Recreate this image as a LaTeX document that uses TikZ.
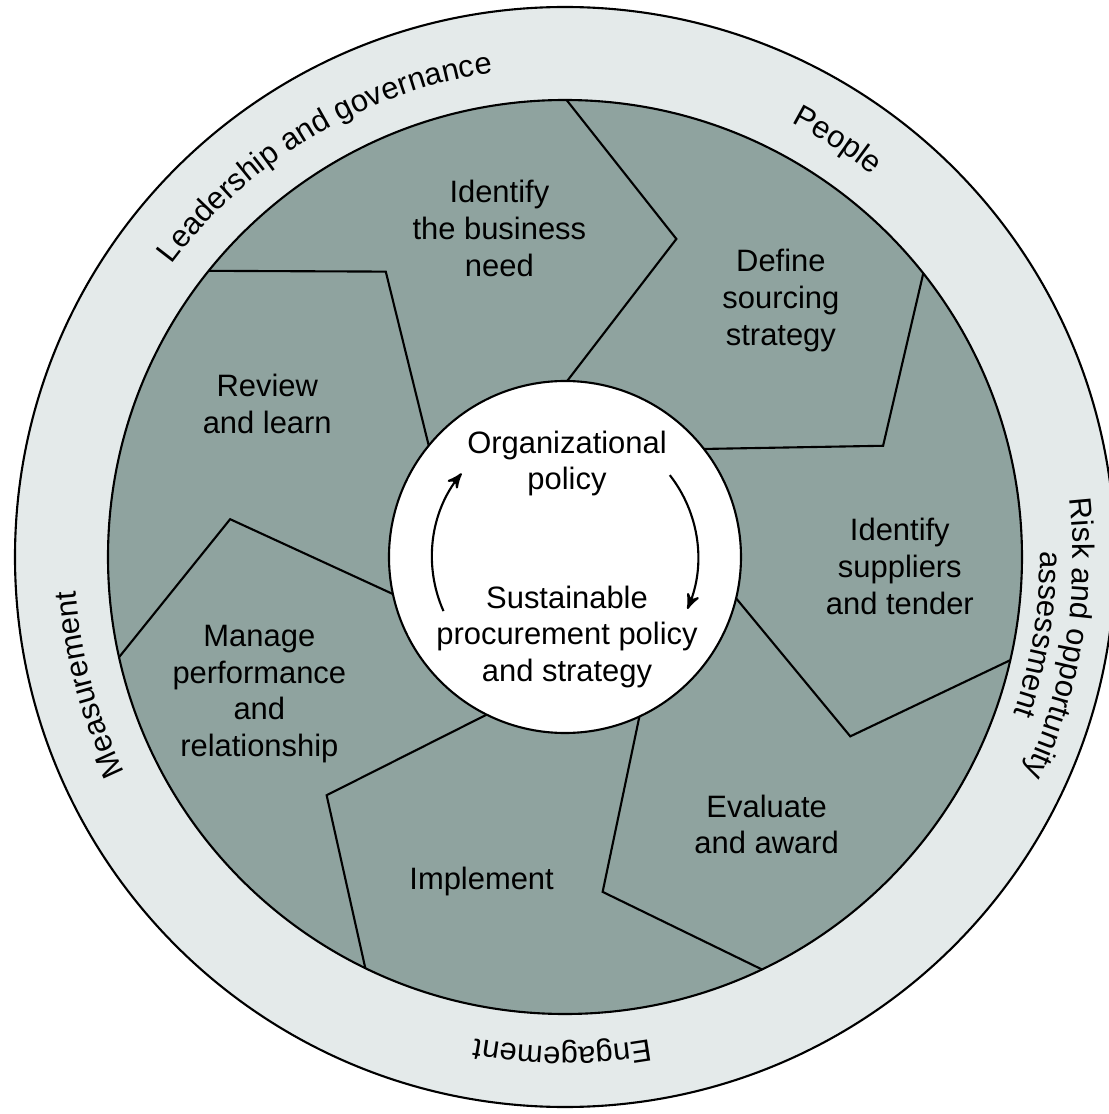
\documentclass[tikz,border=0pt]{standalone}
\usepackage{fontspec}
\setmainfont{Liberation Sans}
\usetikzlibrary{arrows}
\usetikzlibrary{decorations.text}
\usepackage{xcolor}
\definecolor{ringgrey}{HTML}{E4EAEA}
\definecolor{stagegrey}{HTML}{8FA39F}

\begin{document}
\begin{tikzpicture}[line width=0.6pt,
  stage/.style={align=center, inner sep=0pt},
  ringlabel/.style={decorate, decoration={text along path, text align=center, text={#1}}}]
\fontsize{8.8}{10.5}\selectfont
\useasboundingbox (-5.65,-5.57) rectangle (5.44,5.57);
% outer ring and stage disk
\draw[fill=ringgrey] (0,0) circle (5.5);
\draw[fill=stagegrey] (0,0) circle (4.57);
% borders between the stages
\foreach \k in {0,...,6} {
 \pgfmathsetmacro{\ang}{89.3-360/7*\k}
 \draw (\ang:1.76) -- (\ang-18.6:3.37) -- (\ang+0.5:4.57);
}
\draw[fill=white] (0,0) circle (1.76);
% stages
\foreach \txt [count=\i from 0] in {{Identify\\the business\\need}, {Define\\sourcing\\strategy},
  {Identify\\suppliers\\and tender}, {Evaluate\\and award}, {Implement},
  {Manage\\performance\\and\\relationship}, {Review\\and learn}}
 \node[stage] (stage\i) at ({101.3-360/7*\i}:3.35) {\txt};
% policy in the middle
\node[stage] (orgpol) at (0.02,0.935) {Organizational\\policy};
\node[stage] (sppol) at (0.02,-0.80) {Sustainable\\procurement policy\\and strategy};
\coordinate (upstart) at (204:1.33);
\coordinate (downstart) at (38:1.33);
\draw[->, >=stealth'] (upstart) arc[start angle=204, end angle=141, radius=1.33];
\draw[->, >=stealth'] (downstart) arc[start angle=38, end angle=-23, radius=1.33];
% ring labels
\path[ringlabel={Leadership and governance}] (160.9:4.9) arc[start angle=160.9, end angle=80.9, radius=4.9];
\path[ringlabel={People}] (96.8:4.9) arc[start angle=96.8, end angle=16.8, radius=4.9];
\path[ringlabel={Risk and opportunity}] (30.7:5.08) arc[start angle=30.7, end angle=-49.3, radius=5.08];
\path[ringlabel={assessment}] (30.7:4.75) arc[start angle=30.7, end angle=-49.3, radius=4.75];
\path[ringlabel={Engagement}] (-50.3:4.9) arc[start angle=-50.3, end angle=-130.3, radius=4.9];
\path[ringlabel={Measurement}] (235:4.9) arc[start angle=235, end angle=155, radius=4.9];
\end{tikzpicture}
\end{document}
